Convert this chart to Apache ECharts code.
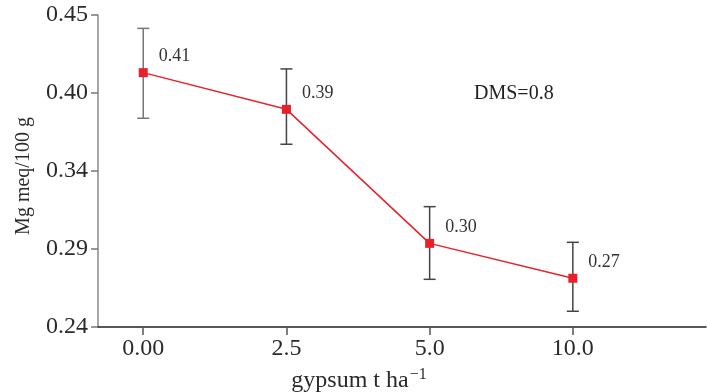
<!DOCTYPE html>
<html>
<head>
<meta charset="utf-8">
<script src="https://cdn.jsdelivr.net/npm/echarts@6/dist/echarts.min.js"></script>
<style>html,body{margin:0;padding:0;background:#fff}#c{width:707px;height:392px}</style>
</head>
<body>
<div id="c"></div>
<script>
var categories = ['0.00', '2.5', '5.0', '10.0'];
var means = [0.4112, 0.3865, 0.2963, 0.2728];
var errLow = [0.3805, 0.3630, 0.2721, 0.2506];
var errHigh = [0.4410, 0.4137, 0.3210, 0.2970];
var pointLabels = ['0.41', '0.39', '0.30', '0.27'];
var yTickValues = [0.24, 0.2925, 0.345, 0.3975, 0.45];
var yTickLabels = ['0.24', '0.29', '0.34', '0.40', '0.45'];
var annotation = 'DMS=0.8';

var serif = '"Liberation Serif", "DejaVu Serif", serif';
var chart = echarts.init(document.getElementById('c'));

var lineData = means.map(function (v, i) { return [i, v]; });
var errData = means.map(function (v, i) { return [i, errLow[i], errHigh[i]]; });

chart.setOption({
  animation: false,
  grid: { left: 98, right: 1, top: 15, bottom: 65, containLabel: false, outerBoundsMode: 'none' },
  xAxis: {
    type: 'value',
    min: -0.316,
    max: 3.93,
    name: '{a|gypsum t ha}{s|\u22121}',
    nameLocation: 'middle',
    nameGap: 40,
    nameTextStyle: {
      padding: [0, 86, 0, 0],
      rich: {
        a: { fontFamily: serif, fontSize: 24, color: '#2a2a2a' },
        s: { fontFamily: serif, fontSize: 16, color: '#2a2a2a', padding: [0, 0, 12, 1] }
      }
    },
    axisLine: { show: true, onZero: false, lineStyle: { color: '#222', width: 1.5 } },
    axisTick: { show: true, length: 8, customValues: [0, 1, 2, 3], lineStyle: { color: '#555', width: 1.5 } },
    axisLabel: {
      customValues: [0, 1, 2, 3],
      formatter: function (v) { return categories[Math.round(v)]; },
      fontFamily: serif, fontSize: 24, color: '#2a2a2a', margin: 10
    },
    splitLine: { show: false }
  },
  yAxis: {
    type: 'value',
    min: 0.24,
    max: 0.45,
    name: 'Mg meq/100 g',
    nameLocation: 'middle',
    nameGap: 64,
    nameTextStyle: { fontFamily: serif, fontSize: 20, color: '#2a2a2a', padding: [0, 10, 0, 0] },
    axisLine: { show: true, onZero: false, lineStyle: { color: '#888', width: 1.5 } },
    axisTick: { show: true, length: 7, customValues: yTickValues, lineStyle: { color: '#777', width: 1.5 } },
    axisLabel: {
      customValues: yTickValues,
      formatter: function (v) {
        var idx = 0, best = 1;
        yTickValues.forEach(function (t, i) { if (Math.abs(t - v) < best) { best = Math.abs(t - v); idx = i; } });
        return yTickLabels[idx];
      },
      fontFamily: serif, fontSize: 24, color: '#2a2a2a', margin: 10
    },
    splitLine: { show: false }
  },
  graphic: [{
    type: 'text',
    left: 474,
    top: 84,
    style: { text: annotation, fontFamily: serif, fontSize: 20, fill: '#222' }
  }],
  series: [
    {
      type: 'custom',
      z: 1,
      data: errData,
      renderItem: function (params, api) {
        var x = api.value(0);
        var lo = api.coord([x, api.value(1)]);
        var hi = api.coord([x, api.value(2)]);
        var w = 6;
        var st = { stroke: params.dataIndex === 0 ? '#777' : '#444', lineWidth: 1.5 };
        return {
          type: 'group',
          children: [
            { type: 'line', shape: { x1: lo[0], y1: lo[1], x2: hi[0], y2: hi[1] }, style: st },
            { type: 'line', shape: { x1: hi[0] - w, y1: hi[1], x2: hi[0] + w, y2: hi[1] }, style: st },
            { type: 'line', shape: { x1: lo[0] - w, y1: lo[1], x2: lo[0] + w, y2: lo[1] }, style: st }
          ]
        };
      }
    },
    {
      type: 'line',
      z: 3,
      data: lineData,
      symbol: 'rect',
      symbolSize: 9,
      itemStyle: { color: '#e8202a' },
      lineStyle: { color: '#e8202a', width: 1.5 },
      label: {
        show: true,
        position: 'right',
        offset: [6, -16],
        formatter: function (p) { return pointLabels[p.dataIndex]; },
        fontFamily: serif, fontSize: 18, color: '#333'
      }
    }
  ]
});
</script>
</body>
</html>
